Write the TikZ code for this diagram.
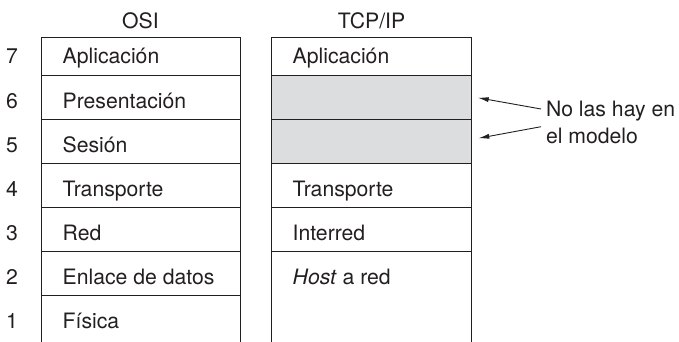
\documentclass[tikz,border=0pt]{standalone}
\usepackage{fontspec}
\setmainfont{TeX Gyre Heros}
\usetikzlibrary{arrows.meta}
\definecolor{layergray}{HTML}{DCDDDF}
\definecolor{ink}{HTML}{231F20}
\begin{document}
\begin{tikzpicture}[x=1pt,y=-1pt,
  every node/.style={inner sep=0pt,outer sep=0pt,font=\fontsize{21.2}{26}\selectfont,text=ink},
  lbl/.style={anchor=base west},
  num/.style={anchor=base},
  hdr/.style={anchor=base},
  frame/.style={draw=ink,line width=0.9pt},
  arr/.style={draw=ink,line width=0.9pt,-{Latex[length=11pt,width=5pt]}}]
\useasboundingbox (0,0) rectangle (679,342);
% shaded rows
\fill[fill=layergray] (271.7,75.3) rectangle (471.3,163.3);
% OSI frame
\draw[frame] (41,342) -- (41,37.3) -- (240,37.3) -- (240,342);
\foreach \y in {75.3,119.3,163.3,207.3,251.3,295.3}
  \draw[frame] (41,\y) -- (240,\y);
% TCP/IP frame
\draw[frame] (271.7,342) -- (271.7,37.3) -- (471.3,37.3) -- (471.3,342);
\foreach \y in {75.3,119.3,163.3,207.3,251.3}
  \draw[frame] (271.7,\y) -- (471.3,\y);
% headers
\node[hdr] (hosi) at (140.5,28.3) {OSI};
\node[hdr] (htcp) at (371.5,28.3) {TCP/IP};
% numbers
\node[num] (n7) at (12,64) {7};
\node[num] (n6) at (12,108) {6};
\node[num] (n5) at (12,152) {5};
\node[num] (n4) at (12,196) {4};
\node[num] (n3) at (12,240) {3};
\node[num] (n2) at (12,284) {2};
\node[num] (n1) at (12,328) {1};
% OSI layers
\node[lbl] (o7) at (62.7,64) {Aplicación};
\node[lbl] (o6) at (62.7,108) {Presentación};
\node[lbl] (o5) at (62.7,152) {Sesión};
\node[lbl] (o4) at (62.7,196) {Transporte};
\node[lbl] (o3) at (62.7,240) {Red};
\node[lbl] (o2) at (62.7,284) {Enlace de datos};
\node[lbl] (o1) at (62.7,328) {Física};
% TCP/IP layers
\node[lbl] (t7) at (292.7,64) {Aplicación};
\node[lbl] (t4) at (292.7,196) {Transporte};
\node[lbl] (t3) at (292.7,240) {Interred};
\node[lbl] (t2) at (292.7,284) {\textit{Host} a red};
% note
\node[lbl] (note1) at (546,116.7) {No las hay en};
\node[lbl] (note2) at (546,143.3) {el modelo};
\coordinate (a1s) at (541,109);
\coordinate (a1e) at (477.7,97.7);
\coordinate (a2s) at (541,126.7);
\coordinate (a2e) at (478.3,138.3);
\draw[arr] (a1s) -- (a1e);
\draw[arr] (a2s) -- (a2e);
\end{tikzpicture}
\end{document}
